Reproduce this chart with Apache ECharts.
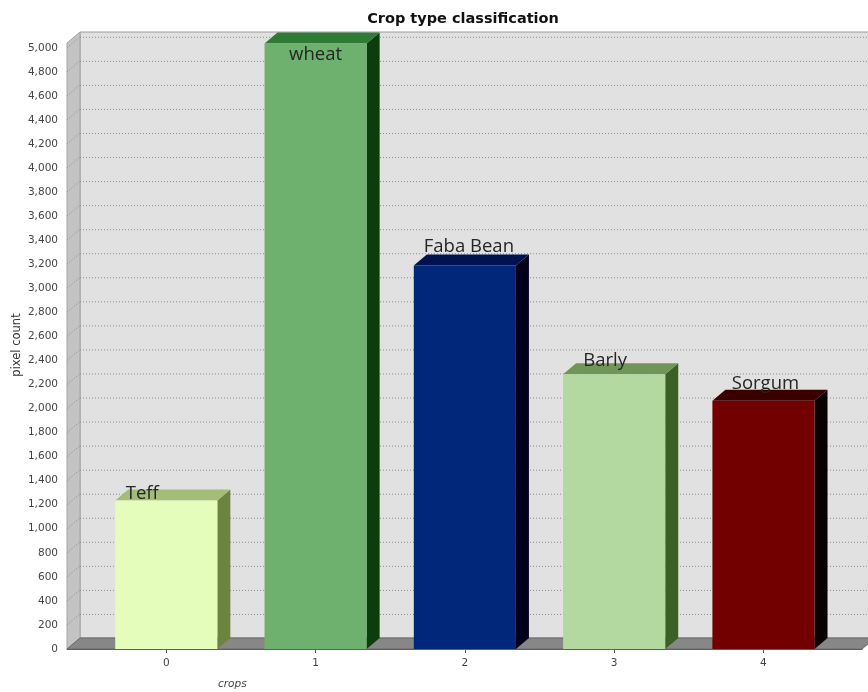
<!DOCTYPE html>
<html>
<head>
<meta charset="utf-8">
<title>Crop type classification</title>
<script src="https://cdn.jsdelivr.net/npm/echarts@6/dist/echarts.min.js"></script>
<style>
  html, body { margin: 0; padding: 0; background: #ffffff; }
  #chart { width: 868px; height: 692px; }
</style>
</head>
<body>
<div id="chart"></div>
<script>
// ---- data ----
const categories = [0, 1, 2, 3, 4];
const cropNames = ['Teff', 'wheat', 'Faba Bean', 'Barly', 'Sorgum'];
const pixelCounts = [1235, 5035, 3190, 2285, 2065];
const yTickValues = [0, 200, 400, 600, 800, 1000, 1200, 1400, 1600, 1800, 2000, 2200, 2400,
  2600, 2800, 3000, 3200, 3400, 3600, 3800, 4000, 4200, 4400, 4600, 4800, 5000];

// ---- styling ----
// [front, top, side] shades of each extruded bar
const barShades = [
  ['#e4fdba', '#a3bd78', '#6d8340'],
  ['#6eb06e', '#2f7a35', '#0c3d0c'],
  ['#00277a', '#001250', '#00001a'],
  ['#b3d8a0', '#6f9658', '#3b5f24'],
  ['#730000', '#3a0000', '#080000']
];
// label nudges: [dx from bar centre, dy from bar top] in px
const labelNudge = [[-24, -7], [0, 11], [4, -19], [-9, -14], [2, -17]];
const DX = 13, DY = 11;          // depth of the 3D extrusion
const HALF_BAR = 0.342;          // half bar width, in category units

const chart = echarts.init(document.getElementById('chart'), null, { renderer: 'canvas' });

function renderWalls(params, api) {
  const cs = params.coordSys;
  const L = cs.x, T = cs.y, R = cs.x + cs.width, B = cs.y + cs.height;
  return {
    type: 'group',
    children: [
      { type: 'rect', shape: { x: L + DX, y: T - DY, width: R - L, height: B - T },
        style: { fill: '#e1e1e1', stroke: '#9a9a9a', lineWidth: 1 } },
      { type: 'polygon', shape: { points: [[L, T], [L + DX, T - DY], [L + DX, B - DY], [L, B]] },
        style: { fill: '#c3c3c3', stroke: '#a5a5a5', lineWidth: 1 } },
      { type: 'polygon', shape: { points: [[L, B], [L + DX, B - DY], [R + DX, B - DY], [R, B]] },
        style: { fill: '#878787', stroke: '#6a6a6a', lineWidth: 1 } }
    ]
  };
}

function renderGrid(params, api) {
  const cs = params.coordSys;
  const L = cs.x, R = cs.x + cs.width;
  const y = api.coord([0, api.value(1)])[1];
  const dash = { stroke: '#8c8c8c', lineWidth: 1, lineDash: [1, 2] };
  return {
    type: 'group',
    children: [
      { type: 'line', shape: { x1: L + DX, y1: y - DY + 0.5, x2: R + DX, y2: y - DY + 0.5 }, style: dash },
      { type: 'line', shape: { x1: L, y1: y, x2: L + DX, y2: y - DY }, style: dash }
    ]
  };
}

function renderBar(params, api) {
  const i = api.value(0);
  const v = api.value(1);
  const tl = api.coord([i - HALF_BAR, v]);
  const br = api.coord([i + HALF_BAR, 0]);
  const x0 = tl[0], x1 = br[0], y0 = tl[1], y1 = br[1];
  const sh = barShades[params.dataIndex];
  const nudge = labelNudge[params.dataIndex];
  return {
    type: 'group',
    children: [
      { type: 'polygon', shape: { points: [[x1, y0], [x1 + DX, y0 - DY], [x1 + DX, y1 - DY], [x1, y1]] },
        style: { fill: sh[2] } },
      { type: 'polygon', shape: { points: [[x0, y0], [x0 + DX, y0 - DY], [x1 + DX, y0 - DY], [x1, y0]] },
        style: { fill: sh[1] } },
      { type: 'rect', shape: { x: x0, y: y0, width: x1 - x0, height: y1 - y0 },
        style: { fill: sh[0] } },
      { type: 'text', z2: 10,
        style: { text: cropNames[params.dataIndex], x: (x0 + x1) / 2 + nudge[0], y: y0 + nudge[1],
          align: 'center', verticalAlign: 'middle',
          font: '18.5px "Open Sans", sans-serif', fill: '#252525' } }
    ]
  };
}

const option = {
  animation: false,
  backgroundColor: '#ffffff',
  title: {
    text: 'Crop type classification',
    left: 458, top: 7, textAlign: 'center',
    textStyle: { fontFamily: 'DejaVu Sans', fontSize: 14.5, fontWeight: 'bold', color: '#111' }
  },
  grid: { left: 67, right: 6, top: 43, bottom: 43, containLabel: false, outerBoundsMode: 'none' },
  xAxis: {
    type: 'value', min: -0.665, max: 4.66,
    splitLine: { show: false },
    axisLine: { show: true, lineStyle: { color: '#555', width: 1 } },
    axisTick: { show: true, length: 4, customValues: categories, lineStyle: { color: '#555' } },
    axisLabel: { customValues: categories, margin: 9, fontFamily: 'DejaVu Sans', fontSize: 10.5, color: '#444' }
  },
  yAxis: {
    type: 'value', min: 0, max: 5040,
    splitLine: { show: false },
    axisLine: { show: true, lineStyle: { color: '#777', width: 1 } },
    axisTick: { show: true, length: 4, customValues: yTickValues, lineStyle: { color: '#666' } },
    axisLabel: {
      customValues: yTickValues, margin: 9, fontFamily: 'DejaVu Sans', fontSize: 10.5, color: '#444',
      formatter: v => v.toLocaleString('en-US')
    }
  },
  graphic: [
    // axis titles
    { type: 'text', x: 17, y: 345, rotation: Math.PI / 2,
      style: { text: 'pixel count', font: '11.5px "DejaVu Sans"', fill: '#333',
        align: 'center', verticalAlign: 'middle' } },
    { type: 'text', left: 218, top: 679,
      style: { text: 'crops', font: 'italic 10.5px "DejaVu Sans"', fill: '#444' } }
  ],
  series: [
    { type: 'custom', name: 'walls', z: 1, silent: true, renderItem: renderWalls, data: [[0, 0]] },
    { type: 'custom', name: 'grid', z: 2, silent: true, renderItem: renderGrid,
      data: yTickValues.slice(1).map(v => [0, v]) },
    { type: 'custom', name: 'pixel count', z: 3, renderItem: renderBar,
      data: categories.map((c, i) => [c, pixelCounts[i]]) }
  ]
};

chart.setOption(option);
</script>
</body>
</html>
